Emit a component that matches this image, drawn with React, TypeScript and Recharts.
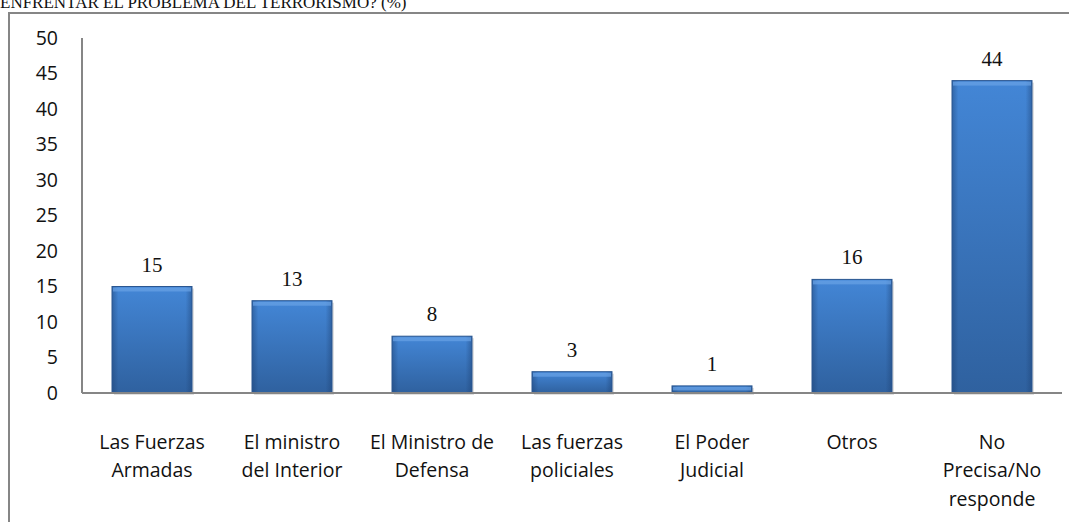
import { BarChart, Bar, XAxis, YAxis, LabelList } from "recharts";

const categories = [
  "Las Fuerzas Armadas",
  "El ministro del Interior",
  "El Ministro de Defensa",
  "Las fuerzas policiales",
  "El Poder Judicial",
  "Otros",
  "No Precisa/No responde",
];

const tickLines: string[][] = [
  ["Las Fuerzas", "Armadas"],
  ["El ministro", "del Interior"],
  ["El Ministro de", "Defensa"],
  ["Las fuerzas", "policiales"],
  ["El Poder", "Judicial"],
  ["Otros"],
  ["No", "Precisa/No", "responde"],
];

const values = [15, 13, 8, 3, 1, 16, 44];

const yTicks = [0, 5, 10, 15, 20, 25, 30, 35, 40, 45, 50];

const data = categories.map((name, i) => ({ name, value: values[i] }));

const AXIS = "#868686";
const SANS = "'Open Sans', 'DejaVu Sans', sans-serif";
const SERIF = "'Liberation Serif', 'DejaVu Serif', serif";

function CategoryTick({ x, y, index }: any) {
  const lines = tickLines[index] || [];
  return (
    <g transform={`translate(${x},${y})`}>
      {lines.map((l, i) => (
        <text
          key={i}
          x={0}
          y={40 + i * 28.5}
          textAnchor="middle"
          dominantBaseline="central"
          fontSize={19.5}
          fontFamily={SANS}
          fill="#111"
        >
          {l}
        </text>
      ))}
    </g>
  );
}

function BevelBar({ x, y, width, height }: any) {
  if (height <= 0) return null;
  const bevel = Math.min(4, height / 2);
  return (
    <g>
      <rect x={x + 2} y={y + 2} width={width} height={height} fill="#000" opacity={0.12} />
      <rect x={x} y={y} width={width} height={height} fill="url(#barV)" />
      <rect x={x} y={y} width={width} height={height} fill="url(#barH)" />
      <rect x={x + 1} y={y + 1} width={width - 2} height={bevel} fill="#6aa3e6" opacity={0.7} />
      <rect x={x} y={y} width={width} height={height} fill="none" stroke="#2a5690" strokeWidth={1} />
    </g>
  );
}

export default function App() {
  return (
    <div
      style={{
        position: "absolute",
        left: 0,
        top: 0,
        width: 1069,
        height: 522,
        overflow: "hidden",
        background: "#fff",
      }}
    >
      <div
        style={{
          position: "absolute",
          left: 0,
          top: -7,
          fontFamily: SERIF,
          fontSize: 17,
          lineHeight: "20px",
          color: "#111",
          whiteSpace: "nowrap",
        }}
      >
        ENFRENTAR EL PROBLEMA DEL TERRORISMO? (%)
      </div>
      <div
        style={{
          position: "absolute",
          left: 8,
          top: 12,
          width: 1069,
          height: 530,
          borderTop: `2px solid ${AXIS}`,
          borderLeft: `2px solid ${AXIS}`,
        }}
      />
      <div style={{ position: "absolute", left: 0, top: 0 }}>
        <BarChart
          width={1069}
          height={522}
          data={data}
          margin={{ top: 38, right: 7, left: 0, bottom: 0 }}
        >
          <defs>
            <linearGradient id="barV" x1="0" y1="0" x2="0" y2="1">
              <stop offset="0%" stopColor="#4386d6" />
              <stop offset="100%" stopColor="#2f619f" />
            </linearGradient>
            <linearGradient id="barH" x1="0" y1="0" x2="1" y2="0">
              <stop offset="0%" stopColor="#1c3f70" stopOpacity={0.45} />
              <stop offset="8%" stopColor="#1c3f70" stopOpacity={0} />
              <stop offset="92%" stopColor="#1c3f70" stopOpacity={0} />
              <stop offset="100%" stopColor="#1c3f70" stopOpacity={0.45} />
            </linearGradient>
          </defs>
          <XAxis
            dataKey="name"
            height={129}
            interval={0}
            tickLine={false}
            axisLine={{ stroke: AXIS, strokeWidth: 2 }}
            tick={<CategoryTick />}
          />
          <YAxis
            width={82}
            domain={[0, 50]}
            ticks={yTicks}
            interval={0}
            tickLine={false}
            tickSize={22}
            tickMargin={2}
            axisLine={{ stroke: AXIS, strokeWidth: 2 }}
            tick={{ fontSize: 19.5, fontFamily: SANS, fill: "#111" }}
          />
          <Bar dataKey="value" barSize={80} shape={<BevelBar />} isAnimationActive={false}>
            <LabelList
              dataKey="value"
              position="top"
              offset={15}
              style={{ fontSize: 21, fontFamily: SERIF, fill: "#111" }}
            />
          </Bar>
        </BarChart>
      </div>
    </div>
  );
}
